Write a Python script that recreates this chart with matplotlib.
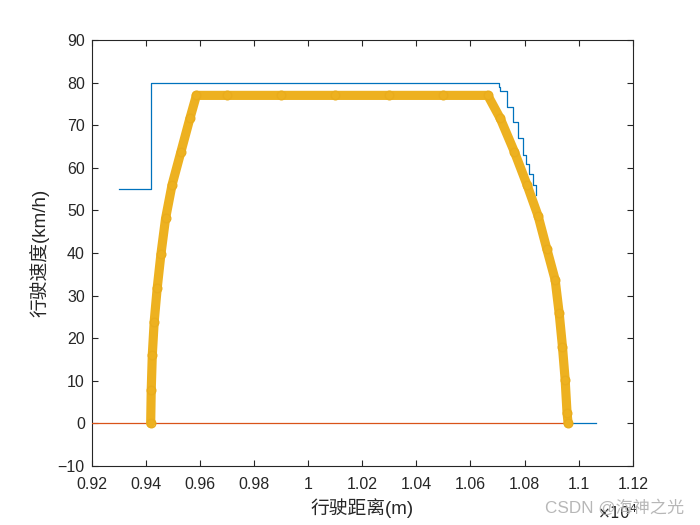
import matplotlib
matplotlib.use("Agg")
import numpy as np
import matplotlib.pyplot as plt
from matplotlib.ticker import FuncFormatter, MultipleLocator

plt.rcParams['font.family'] = ['Liberation Sans', 'Noto Sans CJK SC', 'DejaVu Sans']

# speed limit (blue step line), m and km/h
limit_x = [9300, 9420, 10704, 10710, 10734, 10756, 10774, 10793, 10805, 10817, 10830, 10842]
limit_v = [55, 80, 79, 78, 74.3, 70.8, 67.1, 63.0, 60.8, 58.5, 56.0, 53.5]
tail_x = [10960, 11063]
tail_v = [0, 0]

# zero line (red)
zero_x = [9200, 10960]
zero_v = [0, 0]

# train run curve (orange circles)
run_x = [9418, 9420, 9424, 9431, 9442, 9456, 9473, 9497, 9530, 9563, 9587,
         9700, 9900, 10100, 10300, 10500, 10664,
         10710, 10762, 10809, 10850, 10882, 10913, 10928, 10940, 10950, 10957, 10961]
run_v = [0, 7.8, 16.1, 23.9, 31.7, 39.8, 48.1, 56.0, 63.8, 71.6, 77,
         77, 77, 77, 77, 77, 77,
         71.6, 63.8, 56.0, 48.7, 41.0, 33.7, 25.8, 18.0, 10.2, 2.4, 0]

blue = '#0072BD'
red = '#D95319'
orange = '#EDB120'
dark = '#262626'

fig = plt.figure(figsize=(7, 5.25), dpi=100)
ax = fig.add_axes([0.131, 0.1124, 0.773, 0.8114])

ax.plot(limit_x, limit_v, color=blue, lw=0.9, drawstyle='steps-post', zorder=2)
ax.plot(tail_x, tail_v, color=blue, lw=0.9, zorder=2)
ax.plot(zero_x, zero_v, color=red, lw=0.9, zorder=3)

# dense circles look like a solid band
ax.plot(run_x, run_v, color=orange, lw=6.6, solid_capstyle='round',
        solid_joinstyle='round', zorder=4)
ax.plot(run_x, run_v, ls='none', marker='o', ms=6.2, mfc='none', mec='#E9AC1C',
        mew=1.0, zorder=5)

ax.set_xlim(9200, 11200)
ax.set_ylim(-10, 90)
ax.xaxis.set_major_locator(MultipleLocator(200))
ax.yaxis.set_major_locator(MultipleLocator(10))
ax.xaxis.set_major_formatter(FuncFormatter(lambda v, p: '%g' % round(v / 1e4, 4)))

ax.tick_params(direction='in', length=4, width=0.8, colors=dark, labelsize=11.5,
               top=True, right=True)
ax.tick_params(axis='x', pad=8)
ax.tick_params(axis='y', pad=5)
for s in ax.spines.values():
    s.set_color(dark)
    s.set_linewidth(0.8)

ax.set_xlabel('行驶距离(m)', fontsize=13.5, color=dark, labelpad=4)
ax.set_ylabel('行驶速度(km/h)', fontsize=13.5, color=dark, labelpad=6)

ax.text(0.933, -0.088, r'$\times10^4$', transform=ax.transAxes, fontsize=11,
        color=dark, ha='left', va='top')
fig.text(0.978, 0.034, 'CSDN @海神之光', fontsize=12.3, color='#b0b0b0',
         ha='right', va='center', alpha=0.9)

fig.savefig('out.png', dpi=100)
